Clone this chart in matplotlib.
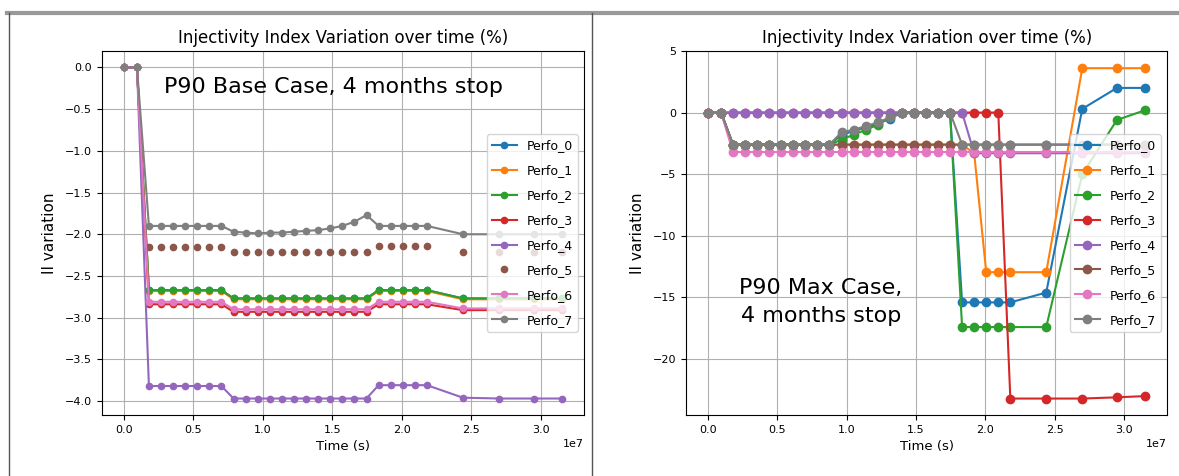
import numpy as np
import matplotlib
matplotlib.use("Agg")
from matplotlib import pyplot as plt
from matplotlib.lines import Line2D

# time steps, in units of 1e7 s
TIME_E7 = [0.0, 0.094,
           0.180, 0.267, 0.354, 0.441, 0.528, 0.615, 0.702,
           0.789, 0.876, 0.963, 1.050, 1.137, 1.224, 1.311, 1.398, 1.485, 1.572, 1.659, 1.746,
           1.833, 1.920, 2.007, 2.094, 2.181,
           2.440, 2.700, 2.950, 3.155]

LABELS = ["Perfo_0", "Perfo_1", "Perfo_2", "Perfo_3",
          "Perfo_4", "Perfo_5", "Perfo_6", "Perfo_7"]

# P90 base case
BASE_0 = [0, 0] + [-2.67] * 7 + [-2.77] * 12 + [-2.67] * 5 + [-2.77] * 4
BASE_1 = [0, 0] + [-2.68] * 7 + [-2.78] * 12 + [-2.68] * 5 + [-2.78] * 4
BASE_2 = [0, 0] + [-2.67] * 7 + [-2.77] * 12 + [-2.67] * 5 + [-2.77] * 4
BASE_3 = [0, 0] + [-2.84] * 7 + [-2.93] * 12 + [-2.84] * 5 + [-2.91] * 4
BASE_4 = [0, 0] + [-3.82] * 7 + [-3.97] * 12 + [-3.81] * 5 + [-3.96, -3.97, -3.97, -3.97]
BASE_5 = [0, 0] + [-2.15] * 7 + [-2.21] * 12 + [-2.14] * 5 + [-2.21] * 4
BASE_6 = [0, 0] + [-2.81] * 7 + [-2.90] * 12 + [-2.81] * 5 + [-2.89] * 4
BASE_7 = ([0, 0] + [-1.90] * 7
          + [-1.97, -1.98, -1.99, -1.98, -1.98, -1.97, -1.96, -1.95, -1.93, -1.90, -1.85, -1.77]
          + [-1.90] * 5 + [-2.0] * 4)
BASE = [BASE_0, BASE_1, BASE_2, BASE_3, BASE_4, BASE_5, BASE_6, BASE_7]

# P90 max case
MAX_0 = ([0, 0] + [-2.6] * 9 + [-1.8, -1.5, -1.2, -0.9] + [-0.5, 0, 0, 0, 0, 0]
         + [-15.4] * 5 + [-14.6, 0.3, 2.0, 2.0])
MAX_1 = [0, 0] + [-2.6] * 20 + [-3.3] + [-12.95] * 3 + [-12.95, 3.6, 3.6, 3.6]
MAX_2 = ([0, 0] + [-2.6] * 9 + [-2.2, -1.8, -1.4, -1.0] + [-0.4, 0, 0, 0, 0, 0]
         + [-17.4] * 5 + [-17.4, -5.0, -0.6, 0.2])
MAX_3 = [0, 0] + [0] * 23 + [-23.2] + [-23.2, -23.2, -23.1, -23.0]
MAX_4 = [0, 0] + [0] * 20 + [-3.3] * 4 + [-3.3] * 4
MAX_5 = [0, 0] + [-2.6] * 24 + [-2.6] * 4
MAX_6 = [0, 0] + [-3.2] * 24 + [-3.2] * 4
MAX_7 = ([0, 0] + [-2.6] * 9 + [-1.6, -1.4, -1.1, -0.8] + [-0.4, 0, 0, 0, 0, 0]
         + [-2.6] * 5 + [-2.6] * 4)
MAX = [MAX_0, MAX_1, MAX_2, MAX_3, MAX_4, MAX_5, MAX_6, MAX_7]

TITLE = "Injectivity Index Variation over time (%)"

fig = plt.figure(figsize=(11.79, 4.76), dpi=100)
ax1 = fig.add_axes([0.0865, 0.128, 0.409, 0.765])
ax2 = fig.add_axes([0.582, 0.128, 0.408, 0.765])

t = np.array(TIME_E7) * 1e7

for i, (lab, y) in enumerate(zip(LABELS, BASE)):
    ls = "none" if i == 5 else "-"
    ax1.plot(t, y, marker="o", ms=4.5, lw=1.5, ls=ls, label=lab)
for lab, y in zip(LABELS, MAX):
    ax2.plot(t, y, marker="o", ms=6, lw=1.5, label=lab)

for ax in (ax1, ax2):
    ax.set_title(TITLE, fontsize=12)
    ax.set_xlabel("Time (s)", fontsize=9.5)
    ax.set_ylabel("II variation", fontsize=11, labelpad=6)
    ax.tick_params(labelsize=8)
    ax.xaxis.get_offset_text().set_fontsize(8)
    ax.grid(True)
    ax.legend(loc="center right", fontsize=9, labelspacing=0.95)

ax1.set_yticks(np.arange(-4.0, 0.01, 0.5))
ax2.set_yticks([5, 0, -5, -10, -15, -20])

ax1.text(0.48, 0.9, "P90 Base Case, 4 months stop", transform=ax1.transAxes,
         fontsize=16, ha="center", va="center")
ax2.text(0.28, 0.31, "P90 Max Case,\n4 months stop", transform=ax2.transAxes,
         fontsize=16, ha="center", va="center", linespacing=1.5)

# screenshot frame
fig.add_artist(Line2D([0.006, 1.0], [0.972, 0.972], color="#999999", lw=3))
fig.add_artist(Line2D([0.008, 0.008], [0.0, 0.972], color="#555555", lw=1))
fig.add_artist(Line2D([0.502, 0.502], [0.0, 0.972], color="#555555", lw=1))

fig.savefig("out.png", dpi=100)
